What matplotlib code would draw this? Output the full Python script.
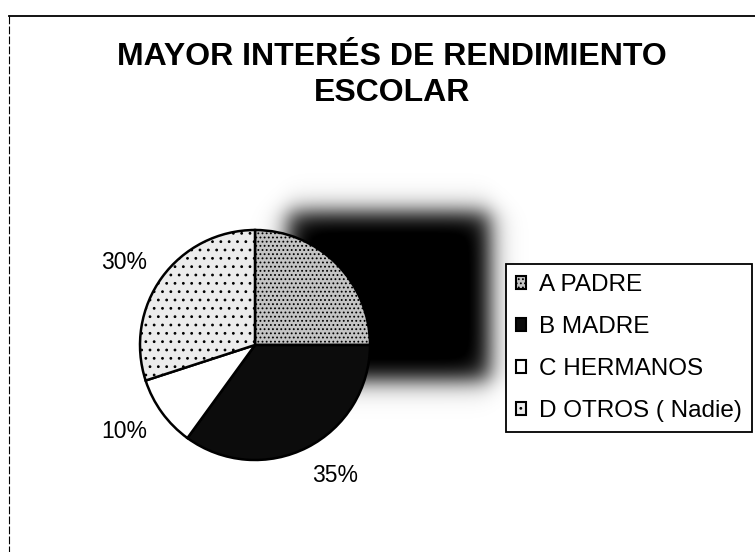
import numpy as np
import matplotlib
matplotlib.use("Agg")
import matplotlib.pyplot as plt

plt.rcParams["hatch.color"] = "#7a7a7a"
plt.rcParams["hatch.linewidth"] = 0.8

title = "MAYOR INTERÉS DE RENDIMIENTO\nESCOLAR"
categories = ["A PADRE", "B MADRE", "C HERMANOS", "D OTROS ( Nadie)"]
values = [25, 35, 10, 30]
colors = ["#c4c4c4", "#0c0c0c", "#ffffff", "#ececec"]
hatches = ["....", None, None, ".."]

W, H = 755, 552
fig = plt.figure(figsize=(W / 100, H / 100), dpi=100)
fig.patch.set_facecolor("white")

# background axes in pixel coordinates (scanned frame and dark blotch)
bg = fig.add_axes([0, 0, 1, 1], zorder=0)
bg.set_xlim(0, W)
bg.set_ylim(H, 0)
bg.axis("off")

yy, xx = np.mgrid[0:H, 0:W] + 0.5
def soft(v, a, b, s):
    return 1 / (1 + np.exp(-(v - a) / s)) * 1 / (1 + np.exp((v - b) / s))
dens = soft(xx, 288, 490, 7) * soft(yy, 212, 380, 7)
img = np.ones((H, W, 4))
img[..., :3] = 0.0
img[..., 3] = np.clip(dens * 1.05, 0, 1)
bg.imshow(img, extent=(0, W, H, 0), interpolation="bilinear", zorder=0)

bg.plot([9, W], [16, 16], color="black", lw=1.3, zorder=1)
bg.plot([9, 9], [16, H], color="black", lw=0.8, ls=(0, (7, 2)), zorder=1)

fig.text(392 / W, 1 - 75 / H, title, ha="center", va="center",
         fontsize=23, fontweight="bold", family="Liberation Sans",
         linespacing=1.25)

# pie axes
cx, cy, r = 255, 345, 115
ax = fig.add_axes([(cx - r) / W, (H - cy - r) / H, 2 * r / W, 2 * r / H], zorder=2)
ax.patch.set_alpha(0)
wedges, _ = ax.pie(values, colors=colors, startangle=90, counterclock=False,
                   wedgeprops=dict(edgecolor="black", linewidth=1.8))
for w, h in zip(wedges, hatches):
    if h:
        w.set_hatch(h)
ax.set_xlim(-1, 1)
ax.set_ylim(-1, 1)
ax.axis("off")

# percentage labels, offset (in pixels) outward from the wedge edge
label_offsets = [(45, 0), (28, -28), (-38, -19), (-38, 15)]
total = sum(values)
for w, v, off in zip(wedges, values, label_offsets):
    ang = np.deg2rad((w.theta1 + w.theta2) / 2)
    ax.annotate(f"{round(100 * v / total)}%", xy=(np.cos(ang), np.sin(ang)),
                xytext=(off[0] * 0.72, off[1] * 0.72), textcoords="offset points",
                ha="center", va="center", fontsize=16.5,
                family="Liberation Sans", color="black", annotation_clip=False)

handles = [plt.Rectangle((0, 0), 1, 1, facecolor=c, edgecolor="black", lw=1.5,
                         hatch=h) for c, h in zip(colors, hatches)]
leg = fig.legend(handles, categories, loc="upper left",
                 bbox_to_anchor=(506 / W, 1 - 264 / H),
                 prop=dict(family="Liberation Sans", size=17.5),
                 handlelength=0.42, handleheight=0.42, handletextpad=0.5,
                 labelspacing=0.82, borderpad=0.42, borderaxespad=0,
                 fancybox=False, framealpha=1, edgecolor="black")
leg.get_frame().set_linewidth(1.3)
leg.set_zorder(3)

fig.savefig("out.png", dpi=100)
